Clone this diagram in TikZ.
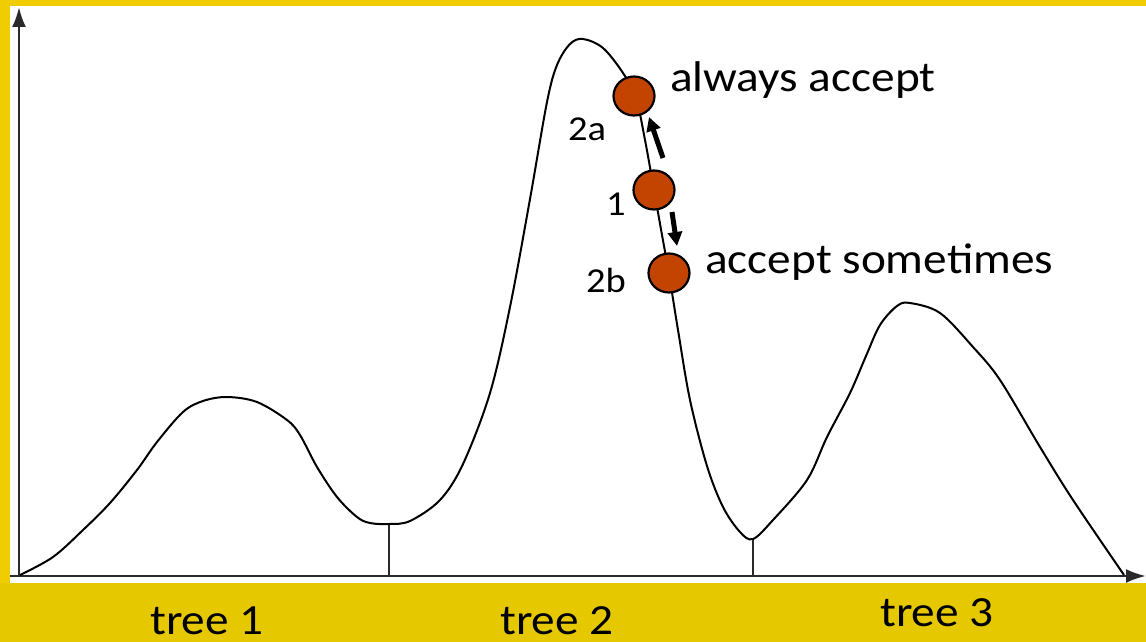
\documentclass[tikz,border=0pt]{standalone}
\usepackage{fontspec}
\setmainfont[FakeStretch=1.1]{Carlito}
\usetikzlibrary{arrows.meta,calc,shapes.geometric}
\definecolor{frameyellow}{HTML}{EFCD00}
\definecolor{bandyellow}{HTML}{E6C800}
\definecolor{dotred}{HTML}{C24400}
\definecolor{axisgray}{HTML}{2A2A2A}
\tikzset{
  axisline/.style={line width=2.6pt, draw=axisgray, -{Latex[length=20pt,width=14pt]}},
  curveline/.style={line width=2pt, black, line join=round},
  tickline/.style={line width=2.2pt, axisgray},
  dotnode/.style={ellipse, draw=black, line width=2.2pt, fill=dotred, minimum width=41pt, minimum height=39pt, inner sep=0pt},
  bigarrow/.style={line width=5pt, -{Triangle[length=14pt,width=14pt]}},
  biglabel/.style={anchor=base west, inner sep=0pt, font=\fontsize{43}{50}\selectfont},
  smalllabel/.style={anchor=base west, inner sep=0pt, font=\fontsize{35}{40}\selectfont}
}
\begin{document}
\begin{tikzpicture}[x=1pt,y=-1pt]
\useasboundingbox (0,0) rectangle (1146,642);
% background
\fill[frameyellow] (0,0) rectangle (1146,642);
\fill[bandyellow] (0,583) rectangle (1146,642);
\fill[white] (10,6) rectangle (1146,583);
% axes
\coordinate (origin) at (19,576);
\coordinate (ytop) at (19,7);
\coordinate (xleft) at (10,576);
\coordinate (xright) at (1146,576);
\draw[axisline] (origin) -- (ytop);
\draw[axisline] (xleft) -- (xright);
% valley ticks
\coordinate (v1) at (389,524);
\coordinate (v1b) at (389,576);
\coordinate (v2) at (753,539);
\coordinate (v2b) at (753,576);
\draw[tickline] (v1) -- (v1b);
\draw[tickline] (v2) -- (v2b);
% curve
\draw[curveline] plot[smooth, tension=0.55] coordinates {
 (20,575) (53,557) (83,530) (110,503) (137,470) (157,442) (183,412) (203,401)
 (227,397) (257,402) (287,420) (300,435) (317,467) (337,497) (357,517) (370,523)
 (389,524) (410,521) (440,500) (463,464) (490,393) (510,307) (530,199) (547,102)
 (557,65) (570,44) (583,39) (603,48) (623,73) (636,98) (645,140) (654,190)
 (662,235) (669,274) (678,330) (690,400) (707,466) (723,507) (740,532) (753,539)
 (773,520) (807,480) (827,437) (850,393) (866,356) (880,325) (897,306) (910,303)
 (940,313) (973,347) (1000,380) (1040,447) (1073,500) (1124,575)};
% dots
\node[dotnode] (d2a) at (634,96) {};
\node[dotnode] (d1) at (654,190) {};
\node[dotnode] (d2b) at (669,273) {};
% arrows
\coordinate (upstart) at ($(d1)+(9,-32)$);
\coordinate (upend) at ($(d2a)+(15,21)$);
\coordinate (dnstart) at ($(d1)+(18,22)$);
\coordinate (dnend) at ($(d2b)+(8,-27)$);
\draw[bigarrow] (upstart) -- (upend);
\draw[bigarrow] (dnstart) -- (dnend);
% labels
\node[biglabel] (lalways) at (670,92) {always accept};
\node[biglabel] (lsometimes) at (705,273) {accept sometimes};
\node[smalllabel] (l2a) at (568,140) {2a};
\node[smalllabel] (l1) at (606,215) {1};
\node[smalllabel] (l2b) at (586,292) {2b};
\node[biglabel] (t1) at (150,634) {tree 1};
\node[biglabel] (t2) at (500,634) {tree 2};
\node[biglabel] (t3) at (880,626) {tree 3};
\end{tikzpicture}
\end{document}
